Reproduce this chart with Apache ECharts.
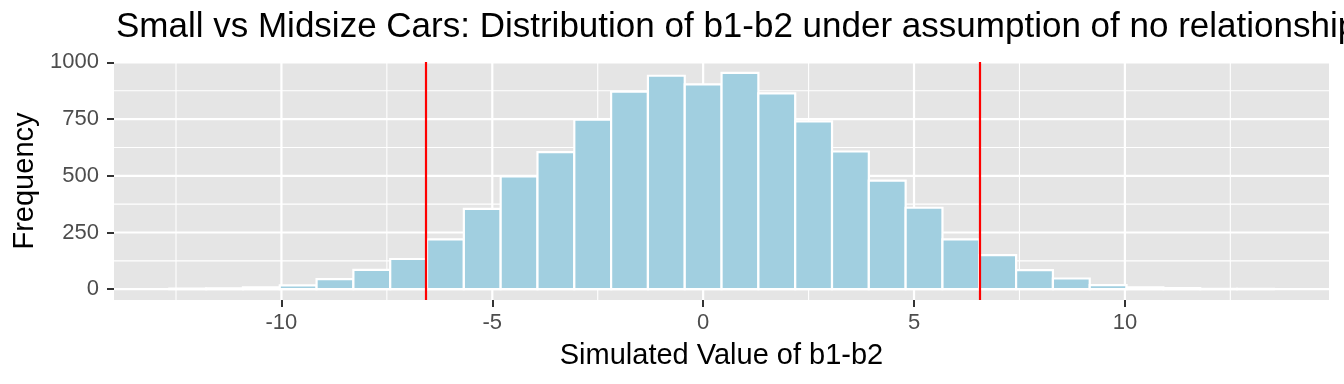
<!DOCTYPE html>
<html>
<head>
<meta charset="utf-8">
<script src="https://cdn.jsdelivr.net/npm/echarts@6/dist/echarts.min.js"></script>
<style>
html,body{margin:0;padding:0;background:#fff;}
#chart{width:1344px;height:384px;}
</style>
</head>
<body>
<div id="chart"></div>
<script>
// ---- data ----
const titleText = 'Small vs Midsize Cars: Distribution of b1-b2 under assumption of no relationship';
const xTitle = 'Simulated Value of b1-b2';
const yTitle = 'Frequency';
const binWidth = 0.873;
const binCenters = [-12.222, -11.349, -10.476, -9.603, -8.730, -7.857, -6.984, -6.111, -5.238, -4.365,
                    -3.492, -2.619, -1.746, -0.873, 0, 0.873, 1.746, 2.619, 3.492, 4.365,
                    5.238, 6.111, 6.984, 7.857, 8.730, 9.603, 10.476, 11.349, 12.222, 13.095];
const counts = [3, 4, 8, 17, 44, 85, 133, 220, 354, 497,
                604, 747, 871, 941, 903, 954, 863, 740, 607, 479,
                359, 220, 150, 84, 47, 18, 8, 5, 1, 2];
const vLines = [-6.565, 6.565];
const xTicks = [-10, -5, 0, 5, 10];
const xMinor = [-12.5, -7.5, -2.5, 2.5, 7.5, 12.5];
const yTicks = [0, 250, 500, 750, 1000];
const yMinor = [125, 375, 625, 875];
const xRange = [-13.97, 14.84];
const yRange = [-47.7, 1001.7];

// ---- chart ----
const chart = echarts.init(document.getElementById('chart'), null, {renderer: 'canvas'});
const FONT = 'Liberation Sans, Arial, Helvetica, sans-serif';

const gridData = [];
xMinor.forEach(v => gridData.push([v, 'x', 0]));
yMinor.forEach(v => gridData.push([v, 'y', 0]));
xTicks.forEach(v => gridData.push([v, 'x', 1]));
yTicks.forEach(v => gridData.push([v, 'y', 1]));

const barData = binCenters.map((c, i) => [c, counts[i]]);

const option = {
  backgroundColor: '#ffffff',
  animation: false,
  title: {
    text: titleText,
    left: 116, top: 10, padding: 0,
    textStyle: {fontFamily: FONT, fontSize: 35, fontWeight: 'normal', color: '#000'}
  },
  grid: {left: 114, right: 15, top: 62, bottom: 84, show: true, backgroundColor: '#E5E5E5', borderWidth: 0},
  xAxis: {
    type: 'value', min: xRange[0], max: xRange[1],
    name: xTitle, nameLocation: 'middle', nameGap: 41,
    nameTextStyle: {fontFamily: FONT, fontSize: 29, color: '#000'},
    axisLine: {show: false, onZero: false},
    axisTick: {show: true, length: 7, lineStyle: {color: '#333333', width: 2}, customValues: xTicks},
    axisLabel: {customValues: xTicks, margin: 12, fontFamily: FONT, fontSize: 22, color: '#4D4D4D',
                formatter: v => String(v)},
    splitLine: {show: false}
  },
  yAxis: {
    type: 'value', min: yRange[0], max: yRange[1],
    name: yTitle, nameLocation: 'middle', nameGap: 65, nameRotate: 90,
    nameTextStyle: {fontFamily: FONT, fontSize: 29, color: '#000'},
    axisLine: {show: false, onZero: false},
    axisTick: {show: true, length: 7, lineStyle: {color: '#333333', width: 2}, customValues: yTicks},
    axisLabel: {customValues: yTicks, margin: 15, fontFamily: FONT, fontSize: 22, color: '#4D4D4D',
                formatter: v => String(v)},
    splitLine: {show: false}
  },
  series: [
    {
      type: 'custom', silent: true, z: 1, clip: true,
      data: gridData,
      renderItem: function (params, api) {
        const v = api.value(0);
        const dir = gridData[params.dataIndex][1];
        const major = gridData[params.dataIndex][2] === 1;
        const cs = params.coordSys;
        let shape;
        if (dir === 'x') {
          const p = api.coord([v, 0]);
          shape = {x1: p[0], y1: cs.y, x2: p[0], y2: cs.y + cs.height};
        } else {
          const p = api.coord([0, v]);
          shape = {x1: cs.x, y1: p[1], x2: cs.x + cs.width, y2: p[1]};
        }
        return {type: 'line', shape: shape, style: {stroke: '#ffffff', lineWidth: major ? 2.2 : 1.1}};
      }
    },
    {
      type: 'custom', silent: true, z: 2, clip: true,
      data: barData,
      renderItem: function (params, api) {
        const c = api.value(0), n = api.value(1);
        const p0 = api.coord([c - binWidth / 2, n]);
        const p1 = api.coord([c + binWidth / 2, 0]);
        return {
          type: 'rect',
          shape: {x: p0[0], y: p0[1], width: p1[0] - p0[0], height: p1[1] - p0[1]},
          style: {fill: '#A1CFE0', stroke: '#ffffff', lineWidth: 2.2}
        };
      },
      markLine: {
        silent: true, symbol: ['none', 'none'], z: 5,
        label: {show: false},
        lineStyle: {color: '#FF0000', width: 2.2, type: 'solid'},
        data: vLines.map(v => ({xAxis: v}))
      }
    }
  ]
};
chart.setOption(option);
</script>
</body>
</html>
